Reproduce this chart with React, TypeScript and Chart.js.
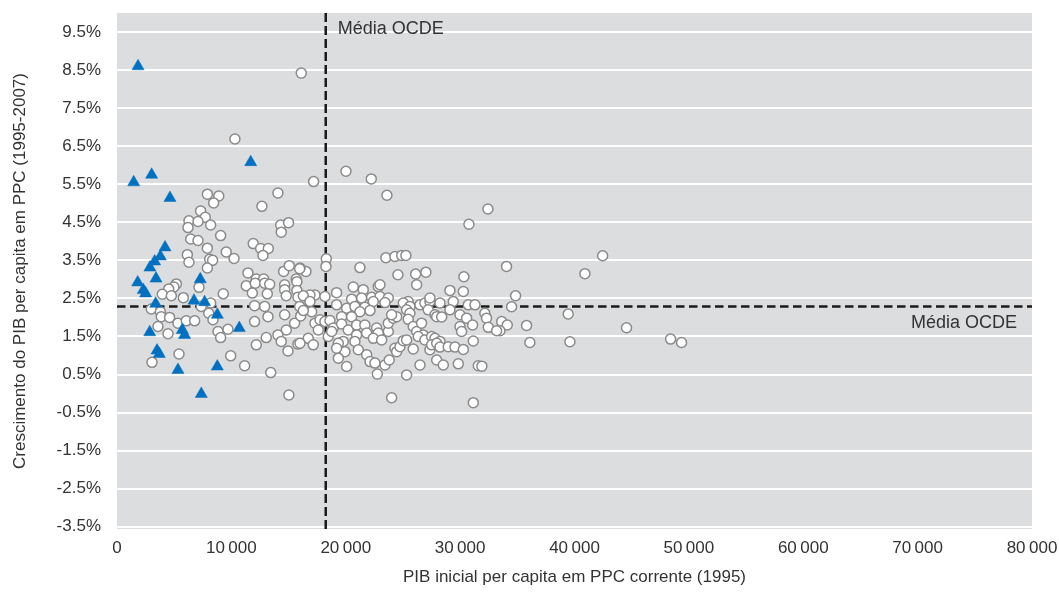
import React, { useEffect, useRef } from "react";
import { Chart, registerables } from "chart.js";

Chart.register(...registerables);

// Non-OECD / emerging economies (blue triangles): [PIB per capita 1995, crescimento %]
const trianglePoints: [number, number][] = [
  [1840, 8.6], [1460, 5.55], [3030, 5.75], [11690, 6.08], [4630, 5.14],
  [4200, 3.84], [3790, 3.6], [3290, 3.47], [2880, 3.31], [1810, 2.92],
  [3410, 3.02], [7280, 3.0], [2300, 2.72], [2500, 2.63], [3380, 2.36],
  [6730, 2.44], [7660, 2.4], [8770, 2.07], [10690, 1.72], [2860, 1.61],
  [5710, 1.67], [5910, 1.54], [3500, 1.13], [3700, 1.04], [5330, 0.62],
  [8770, 0.71], [7370, -0.01],
];

// Regions (white circles): [PIB per capita 1995, crescimento %]
const circlePoints: [number, number][] = [
  [16110, 8.42], [10310, 6.69], [20020, 5.84], [17190, 5.57], [7900, 5.24],
  [8900, 5.19], [14070, 5.27], [22230, 5.64], [23600, 5.21], [32430, 4.85],
  [30770, 4.45], [18300, 3.54], [18270, 3.34], [21240, 3.31], [23510, 3.57],
  [24300, 3.6], [24890, 3.63], [25260, 3.63], [34060, 3.34], [16520, 3.21],
  [16000, 3.3], [24560, 3.12], [26110, 3.14], [27010, 3.19], [30330, 3.07],
  [42460, 3.62], [40910, 3.15], [34850, 2.57], [34500, 2.28], [39450, 2.09],
  [33630, 1.89], [34120, 1.8], [33480, 1.65], [35810, 1.79], [36100, 1.34],
  [39600, 1.36], [44550, 1.73], [48400, 1.43], [49360, 1.34],
  [8450, 5.01], [12670, 4.92], [7310, 4.8], [7720, 4.63], [6290, 4.54],
  [7080, 4.52], [8190, 4.43], [6210, 4.36], [14310, 4.43], [15000, 4.49],
  [14360, 4.24], [9060, 4.15], [6440, 4.06], [7080, 4.02], [7900, 3.82],
  [11910, 3.94], [12560, 3.81], [13230, 3.81], [12760, 3.63], [9550, 3.72],
  [10230, 3.55], [6150, 3.65], [6290, 3.45], [8100, 3.53], [8360, 3.5],
  [7900, 3.3], [11450, 3.17], [14570, 3.21], [15060, 3.36], [15970, 3.28],
  [12180, 3.01], [12820, 3.01], [15670, 3.01],
  [5190, 2.88], [4980, 2.8], [4520, 2.75], [3960, 2.61], [4750, 2.57],
  [5800, 2.52], [7170, 2.79], [9290, 2.62], [8190, 2.38], [3000, 2.22],
  [3790, 2.15], [3870, 2.02], [4600, 2.0], [5330, 1.85], [6060, 1.91],
  [6790, 1.91], [7370, 2.29], [8020, 2.11], [8390, 1.94], [3580, 1.76],
  [4460, 1.57], [8830, 1.63], [9700, 1.69], [9060, 1.47], [5420, 1.04],
  [3060, 0.82], [9940, 0.99], [11160, 0.73], [13440, 0.55], [15030, -0.04],
  [11300, 2.83], [12090, 2.9], [12910, 2.9], [13350, 2.87], [11830, 2.64],
  [13140, 2.62], [14660, 2.86], [15730, 2.94], [14660, 2.73], [15730, 2.71],
  [14800, 2.57], [15820, 2.53], [12030, 2.31], [12910, 2.29], [14660, 2.07],
  [15970, 2.29], [12030, 1.89], [13200, 2.02], [15530, 1.85], [14800, 1.67],
  [14070, 1.54], [14360, 1.37], [14950, 1.12], [15820, 1.3], [12180, 1.28],
  [13050, 1.47], [16060, 2.04],
  [20660, 2.8], [21530, 2.73], [22840, 2.81], [19200, 2.65], [17310, 2.59],
  [18180, 2.55], [16870, 2.59], [16290, 2.57], [20510, 2.48], [21390, 2.51],
  [22260, 2.53], [22990, 2.55], [23720, 2.51], [22410, 2.42], [23430, 2.39],
  [16870, 2.42], [19200, 2.33], [20080, 2.24], [20800, 2.29], [21670, 2.27],
  [22120, 2.18], [21240, 2.15], [17020, 2.15], [16290, 2.18], [19640, 2.02],
  [20510, 2.02], [17310, 1.85], [17750, 1.94], [18180, 1.89], [18620, 1.92],
  [18910, 1.72], [18470, 1.5], [17600, 1.67], [18770, 1.63], [19640, 1.83],
  [20220, 1.67], [20950, 1.8], [20950, 1.54], [21670, 1.8], [21830, 1.59],
  [22700, 1.72], [22840, 1.59], [22410, 1.45], [23140, 1.41], [23720, 1.63],
  [23720, 1.85], [24150, 1.98], [24450, 2.02], [24010, 2.07], [19780, 1.37],
  [20800, 1.37], [19350, 1.32], [19930, 1.1], [19350, 0.93], [21100, 1.15],
  [21830, 1.02], [22120, 0.84], [22550, 0.8], [20080, 0.71], [22760, 0.51],
  [23430, 0.75], [23800, 0.88], [24300, 1.19], [24450, 1.1], [24740, 1.23],
  [25030, 1.39], [25320, 1.41], [25900, 1.17], [25320, 0.49], [24010, -0.11],
  [26490, 0.75], [27950, 0.88], [28530, 0.75], [29840, 0.78], [31590, 0.73],
  [31900, 0.72], [31150, -0.24], [16720, 1.45], [17160, 1.28], [16000, 1.32],
  [25460, 2.42], [25030, 2.38], [25610, 2.29], [25320, 2.2], [25610, 2.11],
  [25460, 1.95], [25900, 1.76], [26200, 1.63], [26630, 1.85], [26770, 1.54],
  [26340, 1.5], [26920, 1.41], [27360, 1.15], [26490, 2.33], [26920, 2.38],
  [27360, 2.42], [27360, 2.51], [27210, 2.2], [27800, 2.07], [27950, 2.02],
  [28390, 2.01], [27510, 1.5], [27800, 1.45], [28240, 1.37], [27510, 1.28],
  [27950, 1.32], [28240, 1.22], [28960, 1.23], [29550, 1.22], [30280, 1.16],
  [29110, 2.71], [30280, 2.68], [29400, 2.42], [30710, 2.33], [31300, 2.33],
  [29110, 2.2], [28240, 2.38], [29990, 2.07], [30570, 1.98], [29990, 1.76],
  [30130, 1.63], [31090, 1.8], [31150, 1.38], [32160, 2.11], [32310, 1.98],
  [32460, 1.74], [33190, 1.65], [26200, 2.86], [22990, 2.86], [19200, 1.19],
];

// OECD averages (reference lines)
const oecdMeanGdp = 18250;
const oecdMeanGrowth = 2.29;
const oecdLabel = "Média OCDE";

const xTickValues = [0, 10000, 20000, 30000, 40000, 50000, 60000, 70000, 80000];
const yTickValues = [-3.5, -2.5, -1.5, -0.5, 0.5, 1.5, 2.5, 3.5, 4.5, 5.5, 6.5, 7.5, 8.5, 9.5];
const xMin = 0;
const xMax = 80000;
const yMin = -3.56;
const yMax = 10;

const xTitle = "PIB inicial per capita em PPC corrente (1995)";
const yTitle = "Crescimento do PIB per capita em PPC (1995-2007)";

const FONT = "'Liberation Sans', Arial, Helvetica, sans-serif";
const TEXT = "#333333";

function formatThousands(v: number): string {
  const s = String(Math.round(v));
  return s.replace(/\B(?=(\d{3})+(?!\d))/g, "\u2009");
}

export default function App() {
  const ref = useRef<HTMLCanvasElement | null>(null);

  useEffect(() => {
    if (!ref.current) return;

    const bgPlugin = {
      id: "plotBg",
      beforeDraw(chart: any) {
        const { ctx, chartArea } = chart;
        ctx.save();
        ctx.fillStyle = "#dcdddf";
        ctx.fillRect(chartArea.left, chartArea.top, chartArea.right - chartArea.left, chartArea.bottom - chartArea.top);
        ctx.restore();
      },
    };

    const labelPlugin = {
      id: "oecdLabels",
      afterDatasetsDraw(chart: any) {
        const { ctx, chartArea, scales } = chart;
        const xs = scales.x;
        const ys = scales.y;
        ctx.save();
        ctx.font = `18px ${FONT}`;
        ctx.fillStyle = TEXT;
        ctx.textBaseline = "middle";
        ctx.textAlign = "left";
        ctx.fillText(oecdLabel, xs.getPixelForValue(oecdMeanGdp) + 12, chartArea.top + 16);
        ctx.textAlign = "right";
        ctx.fillText(oecdLabel, chartArea.right - 15, ys.getPixelForValue(oecdMeanGrowth) + 17);
        ctx.restore();
      },
    };

    const chart = new Chart(ref.current, {
      type: "scatter",
      data: {
        datasets: [
          {
            label: "tri",
            data: trianglePoints.map(([x, y]) => ({ x, y })),
            pointStyle: "triangle",
            pointRadius: 7,
            pointHoverRadius: 7,
            backgroundColor: "#0070c0",
            borderColor: "#0070c0",
            borderWidth: 0.5,
            order: 0,
          },
          {
            label: "circ",
            data: circlePoints.map(([x, y]) => ({ x, y })),
            pointStyle: "circle",
            pointRadius: 5,
            pointHoverRadius: 5,
            backgroundColor: "#ffffff",
            borderColor: "#8a8a8a",
            borderWidth: 1.5,
            order: 1,
          },
          {
            label: "vline",
            data: [
              { x: oecdMeanGdp, y: yMin },
              { x: oecdMeanGdp, y: yMax },
            ],
            showLine: true,
            pointRadius: 0,
            borderColor: "#1a1a1a",
            borderWidth: 2.5,
            borderDash: [9, 4],
            order: 2,
          },
          {
            label: "hline",
            data: [
              { x: xMin, y: oecdMeanGrowth },
              { x: xMax, y: oecdMeanGrowth },
            ],
            showLine: true,
            pointRadius: 0,
            borderColor: "#1a1a1a",
            borderWidth: 2.5,
            borderDash: [8.5, 4.5],
            order: 2,
          },
        ],
      },
      options: {
        animation: false,
        responsive: false,
        events: [],
        layout: { padding: { top: 13, right: 27, left: 0, bottom: 0 } },
        plugins: {
          legend: { display: false },
          tooltip: { enabled: false },
        },
        scales: {
          x: {
            type: "linear",
            min: xMin,
            max: xMax,
            afterBuildTicks(scale: any) {
              scale.ticks = xTickValues.map((v) => ({ value: v }));
            },
            afterFit(scale: any) {
              scale.height = 65;
              scale.paddingLeft = 0;
              scale.paddingRight = 0;
              scale.paddingTop = 0;
              scale.paddingBottom = 0;
            },
            grid: { display: false, drawTicks: false },
            border: { display: false },
            ticks: {
              padding: 9,
              maxRotation: 0,
              autoSkip: false,
              color: TEXT,
              font: { family: FONT, size: 17 },
              callback: (v: any) => formatThousands(Number(v)),
            },
            title: {
              display: true,
              text: xTitle,
              color: TEXT,
              font: { family: FONT, size: 17 },
              padding: { top: 0, bottom: 6 },
            },
          },
          y: {
            type: "linear",
            min: yMin,
            max: yMax,
            afterBuildTicks(scale: any) {
              scale.ticks = yTickValues.map((v) => ({ value: v }));
            },
            afterFit(scale: any) {
              scale.width = 117;
              scale.paddingLeft = 0;
              scale.paddingRight = 0;
              scale.paddingTop = 0;
              scale.paddingBottom = 0;
            },
            grid: { color: "#ffffff", lineWidth: 2, drawTicks: false },
            border: { display: false },
            ticks: {
              padding: 16,
              autoSkip: false,
              color: TEXT,
              font: { family: FONT, size: 17 },
              callback: (v: any) => `${Number(v).toFixed(1)}%`,
            },
            title: {
              display: true,
              text: yTitle,
              color: TEXT,
              font: { family: FONT, size: 17 },
              padding: { top: 10, bottom: 0 },
            },
          },
        },
      },
      plugins: [bgPlugin, labelPlugin],
    });

    return () => chart.destroy();
  }, []);

  return (
    <div style={{ position: "absolute", left: 0, top: 0, width: 1059, height: 594, background: "#ffffff" }}>
      <canvas ref={ref} width={1059} height={594} style={{ display: "block" }} />
    </div>
  );
}
